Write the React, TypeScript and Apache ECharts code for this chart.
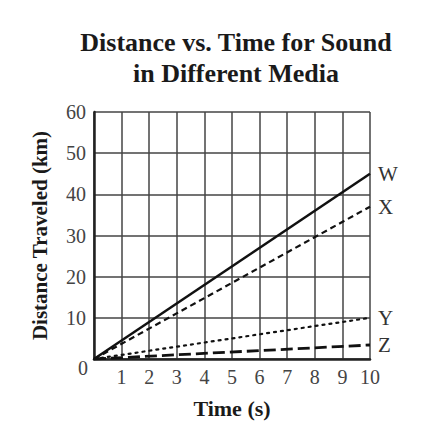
import React, { useEffect, useRef } from "react";
import * as echarts from "echarts";

const times = [0, 10];
const seriesNames = ["W", "X", "Y", "Z"];
const distW = [0, 45];
const distX = [0, 37];
const distY = [0, 10];
const distZ = [0, 3.4];
const yTicks = [0, 10, 20, 30, 40, 50, 60];
const xTicks = [0, 1, 2, 3, 4, 5, 6, 7, 8, 9, 10];

const FONT = '"Liberation Serif", "Times New Roman", serif';

export default function App() {
  const ref = useRef<HTMLDivElement>(null);
  useEffect(() => {
    if (!ref.current) return;
    const chart = echarts.init(ref.current, undefined, { renderer: "svg" });
    const values = [distW, distX, distY, distZ];
    const styles = [
      { type: "solid", width: 2.5 },
      { type: [6, 4], width: 2.2 },
      { type: [2, 5], width: 2.2, cap: "round" },
      { type: [12, 5], width: 2.8 },
    ];
    chart.setOption({
      animation: false,
      title: {
        text: "Distance vs. Time for Sound\nin Different Media",
        left: 231,
        textAlign: "center",
        top: 22,
        textStyle: {
          fontFamily: FONT,
          fontWeight: "bold",
          fontSize: 26,
          lineHeight: 31,
          color: "#1a1a1a",
        },
      },
      grid: { left: 94, right: 54, top: 112, bottom: 70, containLabel: false },
      xAxis: {
        type: "value",
        min: xTicks[0],
        max: xTicks[xTicks.length - 1],
        interval: 1,
        name: "Time (s)",
        nameLocation: "middle",
        nameGap: 38,
        nameTextStyle: { fontFamily: FONT, fontWeight: "bold", fontSize: 22, color: "#1a1a1a" },
        axisLine: { show: true, lineStyle: { color: "#222", width: 2.5 } },
        axisTick: { show: false },
        axisLabel: {
          fontFamily: FONT,
          fontSize: 20,
          color: "#444",
          margin: 8,
          formatter: (v: number) => (v === 0 ? "" : String(v)),
        },
        splitLine: { show: true, lineStyle: { color: "#444", width: 1.5 } },
      },
      yAxis: {
        type: "value",
        min: yTicks[0],
        max: yTicks[yTicks.length - 1],
        interval: 10,
        name: "Distance Traveled (km)",
        nameLocation: "middle",
        nameGap: 44,
        nameTextStyle: { fontFamily: FONT, fontWeight: "bold", fontSize: 21, color: "#1a1a1a" },
        axisLine: { show: true, lineStyle: { color: "#222", width: 2.5 } },
        axisTick: { show: false },
        axisLabel: {
          fontFamily: FONT,
          fontSize: 20,
          color: "#444",
          margin: 8,
          formatter: (v: number) => (v === 0 ? "" : String(v)),
        },
        splitLine: { show: true, lineStyle: { color: "#444", width: 1.5 } },
      },
      graphic: [
        {
          type: "text",
          x: 83,
          y: 368,
          style: {
            text: String(yTicks[0]),
            fontFamily: FONT,
            fontSize: 20,
            fill: "#444",
            textAlign: "center",
            textVerticalAlign: "middle",
          },
        },
      ],
      series: seriesNames.map((name, i) => ({
        name,
        type: "line",
        data: times.map((t, j) => [t, values[i][j]]),
        showSymbol: false,
        symbol: "none",
        lineStyle: { color: "#111", ...styles[i] },
        endLabel: {
          show: true,
          formatter: "{a}",
          distance: 8,
          fontFamily: FONT,
          fontSize: 21,
          color: "#333",
        },
        z: 5,
      })),
    });
    return () => chart.dispose();
  }, []);
  return (
    <div
      ref={ref}
      style={{ position: "fixed", left: 0, top: 0, width: 424, height: 429, background: "#fff" }}
    />
  );
}
